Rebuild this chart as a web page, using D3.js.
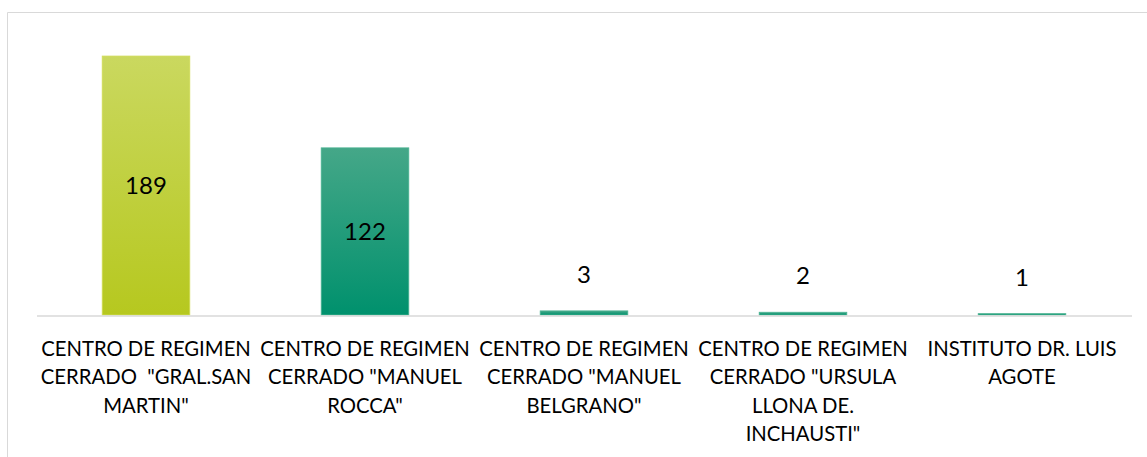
<!DOCTYPE html>
<html>
<head>
<meta charset="utf-8">
<script src="https://cdn.jsdelivr.net/npm/d3@7"></script>
<style>
  html, body { margin: 0; padding: 0; background: #fff; }
  svg { display: block; font-family: Lato, "Open Sans", sans-serif; }
</style>
</head>
<body>
<div id="chart"></div>
<script>
// data
const categories = [
  'CENTRO DE REGIMEN\nCERRADO  "GRAL.SAN\nMARTIN"',
  'CENTRO DE REGIMEN\nCERRADO "MANUEL\nROCCA"',
  'CENTRO DE REGIMEN\nCERRADO "MANUEL\nBELGRANO"',
  'CENTRO DE REGIMEN\nCERRADO "URSULA\nLLONA DE.\nINCHAUSTI"',
  'INSTITUTO DR. LUIS\nAGOTE'
];
const values = [189, 122, 3, 2, 1];
const yMax = 200;

const width = 1147, height = 457;
const plot = { left: 36.5, right: 1131.5, top: 41, bottom: 315 };

const svg = d3.select('#chart').append('svg')
  .attr('width', width)
  .attr('height', height);

// gradients (first bar lime, the rest teal)
const defs = svg.append('defs');
const grads = [
  { id: 'gLime', top: '#cad85f', bottom: '#b6c81f' },
  { id: 'gTeal', top: '#45a788', bottom: '#00916d' }
];
grads.forEach(g => {
  const lg = defs.append('linearGradient')
    .attr('id', g.id).attr('x1', 0).attr('y1', 0).attr('x2', 0).attr('y2', 1);
  lg.append('stop').attr('offset', '0%').attr('stop-color', g.top);
  lg.append('stop').attr('offset', '100%').attr('stop-color', g.bottom);
});

// chart frame
svg.append('path')
  .attr('d', `M7.5,${height} V12.5 H${width}`)
  .attr('fill', 'none')
  .attr('stroke', '#d9d9d9')
  .attr('stroke-width', 1);

const x = d3.scaleBand()
  .domain(categories)
  .range([plot.left, plot.right])
  .paddingInner(0.6)
  .paddingOuter(0.3);

const y = d3.scaleLinear()
  .domain([0, yMax])
  .range([plot.bottom, plot.top]);

const data = categories.map((c, i) => ({ cat: c, value: values[i], i: i }));

// bars
svg.append('g').selectAll('rect')
  .data(data)
  .enter()
  .append('rect')
  .attr('x', d => x(d.cat))
  .attr('y', d => y(d.value))
  .attr('width', x.bandwidth())
  .attr('height', d => y(0) - y(d.value))
  .attr('fill', d => d.i === 0 ? 'url(#gLime)' : 'url(#gTeal)')
  .attr('stroke', d => d.i === 0 ? '#d0dc55' : '#4cb393')
  .attr('stroke-width', 0.8);

// category axis line
const xAxis = svg.append('g')
  .attr('transform', `translate(0,${plot.bottom + 0.5})`)
  .call(d3.axisBottom(x).tickSize(0).tickFormat(''));
xAxis.select('.domain')
  .attr('stroke', '#d9d9d9')
  .attr('stroke-width', 1.5);

// category labels (multi-line)
const catFont = 20.3, lineH = 28.3;
const labels = svg.append('g').selectAll('text')
  .data(data)
  .enter()
  .append('text')
  .attr('text-anchor', 'middle')
  .attr('font-size', catFont)
  .attr('fill', '#000')
  .attr('y', 356);
labels.each(function(d) {
  const t = d3.select(this);
  d.cat.split('\n').forEach((line, k) => {
    t.append('tspan')
      .attr('x', x(d.cat) + x.bandwidth() / 2)
      .attr('y', 356 + k * lineH)
      .style('white-space', 'pre')
      .text(line);
  });
});

// value labels
const valFont = 24;
svg.append('g').selectAll('text')
  .data(data)
  .enter()
  .append('text')
  .attr('text-anchor', 'middle')
  .attr('font-size', valFont)
  .attr('fill', '#000')
  .attr('x', d => x(d.cat) + x.bandwidth() / 2)
  .attr('y', d => {
    const top = y(d.value), h = y(0) - top;
    return h > 60 ? top + h / 2 + valFont * 0.36 : top - 28;
  })
  .text(d => d.value);
</script>
</body>
</html>
